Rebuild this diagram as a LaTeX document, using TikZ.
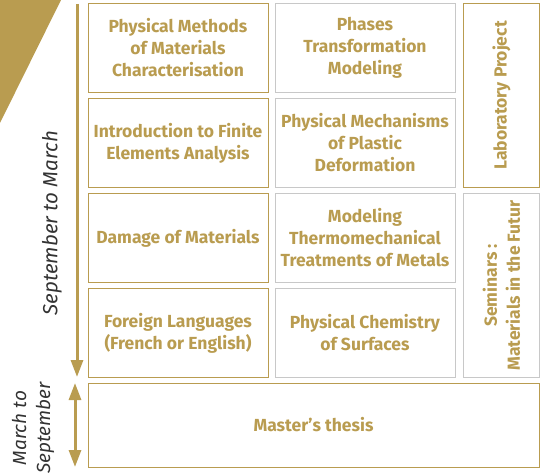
\documentclass[tikz,border=0pt]{standalone}
\usepackage{fontspec}
\setmainfont{Fira Sans}
\usetikzlibrary{arrows.meta}
\definecolor{gold}{HTML}{B99C50}
\definecolor{lgray}{HTML}{C8C8C8}
\definecolor{dgray}{HTML}{333333}
\tikzset{
  box/.style={draw=#1, line width=1pt, minimum width=180pt, minimum height=89pt, inner sep=0pt,
    align=center, text=gold, font=\fontsize{17.5}{22}\selectfont\bfseries},
  box/.default=gold,
  arr/.style={draw=gold, line width=3pt, -{Triangle[width=12pt,length=17pt]}},
  darr/.style={draw=gold, line width=3pt, {Triangle[width=12pt,length=17pt]}-{Triangle[width=12pt,length=17pt]}},
  lab/.style={text=dgray, font=\fontsize{20.5}{24}\selectfont\itshape, rotate=90, align=center, inner sep=0pt}
}
\begin{document}
\begin{tikzpicture}[x=1pt,y=-1pt]
\useasboundingbox (0,0) rectangle (541,476);
\fill[gold] (0,0) -- (61,0) -- (0,123) -- cycle;
% left column
\node[box] (a1) at (178,48) {Physical Methods\\of Materials\\Characterisation};
\node[box] (a2) at (178,143) {Introduction to Finite\\Elements Analysis};
\node[box] (a3) at (178,238) {Damage of Materials};
\node[box] (a4) at (178,333) {Foreign Languages\\(French or English)};
% middle column
\node[box=lgray] (b1) at (365,48) {Phases\\Transformation\\Modeling};
\node[box=lgray] (b2) at (365,143) {Physical Mechanisms\\of Plastic\\Deformation};
\node[box=lgray] (b3) at (365,238) {Modeling\\Thermomechanical\\Treatments of Metals};
\node[box=lgray] (b4) at (365,333) {Physical Chemistry\\of Surfaces};
% right column
\node[box, minimum width=76pt, minimum height=184pt] (c1) at (501.5,95.5) {};
\node[text=gold, font=\fontsize{17.5}{22}\selectfont\bfseries, rotate=90] (c1t) at (c1.center) {Laboratory Project};
\node[box=lgray, minimum width=76pt, minimum height=184pt] (c2) at (501.5,285.5) {};
\node[text=gold, font=\fontsize{17.5}{23}\selectfont\bfseries, rotate=90, align=center] (c2t) at (c2.center) {Seminars :\\Materials in the Futur};
% master
\node[box, minimum width=451pt, minimum height=84pt] (m) at (313.5,425) {Master’s thesis};
% arrows
\coordinate (s1) at (77,4);
\coordinate (e1) at (77,377);
\draw[arr] (s1) -- (e1);
\coordinate (s2) at (75,383);
\coordinate (e2) at (75,467);
\draw[darr] (s2) -- (e2);
\node[lab] (l1) at (52,223) {September to March};
\node[lab, font=\fontsize{19}{24}\selectfont\itshape] (l2) at (33,428) {March to\\September};
\end{tikzpicture}
\end{document}
